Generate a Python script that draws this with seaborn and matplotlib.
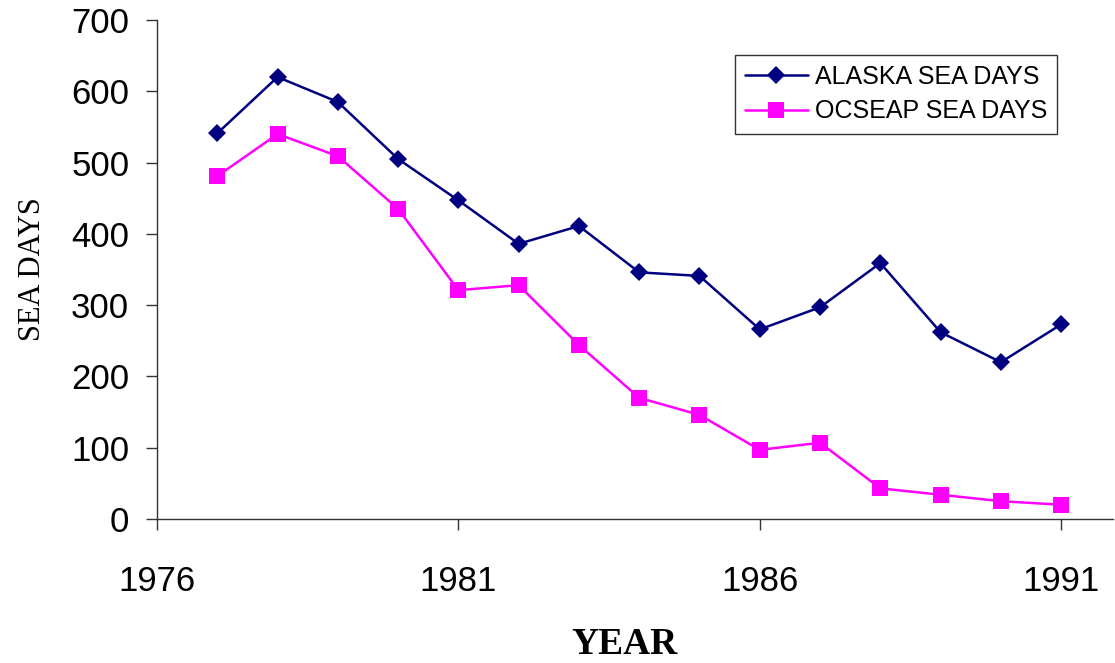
import pandas as pd
import matplotlib
matplotlib.use("Agg")
import matplotlib.pyplot as plt
import seaborn as sns

# 数据
years = [1977, 1978, 1979, 1980, 1981, 1982, 1983, 1984, 1985, 1986, 1987, 1988, 1989, 1990, 1991]
alaska = [541, 620, 585, 505, 447, 386, 411, 346, 341, 266, 297, 359, 262, 220, 273]
ocseap = [481, 540, 509, 435, 321, 328, 244, 170, 146, 97, 107, 43, 34, 25, 20]
x_ticks = [1976, 1981, 1986, 1991]
y_ticks = [0, 100, 200, 300, 400, 500, 600, 700]

sns.set_style("white")
plt.rcParams['font.family'] = ['Liberation Sans', 'DejaVu Sans']
plt.rcParams['text.color'] = 'black'
plt.rcParams['xtick.color'] = 'black'
plt.rcParams['ytick.color'] = 'black'

df = pd.DataFrame({"year": years, "ALASKA SEA DAYS": alaska, "OCSEAP SEA DAYS": ocseap})
long_df = df.melt(id_vars="year", var_name="series", value_name="days")

fig = plt.figure(figsize=(11.15, 6.63), dpi=100)
ax = fig.add_axes([157/1115, 1 - 519/663, (1113-157)/1115, (519-20)/663])

sns.lineplot(data=long_df, x="year", y="days", hue="series", style="series",
             palette={"ALASKA SEA DAYS": "#000080", "OCSEAP SEA DAYS": "#FF00FF"},
             markers={"ALASKA SEA DAYS": "D", "OCSEAP SEA DAYS": "s"},
             dashes=False, linewidth=1.8, markeredgewidth=0, ax=ax)
# 设置marker大小
for line in ax.lines:
    if line.get_marker() == "D":
        line.set_markersize(9)
    elif line.get_marker() == "s":
        line.set_markersize(12)

ax.set_xlim(1976, 1991.86)
ax.set_ylim(0, 700)
ax.set_xticks(x_ticks)
ax.set_yticks(y_ticks)
ax.tick_params(axis="x", direction="out", length=8, width=1, labelsize=25, pad=25, color="#333333",
               labelcolor="black")
ax.tick_params(axis="y", direction="out", length=8, width=1, labelsize=25, pad=12, color="#333333",
               labelcolor="black")
ax.xaxis.set_ticks_position("bottom")
ax.yaxis.set_ticks_position("left")

for s in ["top", "right"]:
    ax.spines[s].set_visible(False)
for s in ["left", "bottom"]:
    ax.spines[s].set_color("#333333")
    ax.spines[s].set_linewidth(1)

ax.set_xlabel("")
ax.set_ylabel("")
fig.text(33/1115, 1 - 269/663, "SEA DAYS", rotation=90, ha="center", va="center",
         family="Liberation Serif", fontsize=22, color="black")
fig.text(625/1115, 1 - 645/663, "YEAR", ha="center", va="center",
         family="Liberation Serif", fontweight="bold", fontsize=27, color="black")

leg = ax.legend(loc="upper left", bbox_to_anchor=(735/1115, 1 - 55/663),
                bbox_transform=fig.transFigure, fontsize=18, frameon=True,
                fancybox=False, edgecolor="black", borderpad=0.4,
                handlelength=2.5, handletextpad=0.3, labelspacing=0.42, borderaxespad=0)
leg.get_frame().set_linewidth(1)
for t in leg.get_texts():
    t.set_color("black")
for h in leg.legend_handles:
    if h.get_marker() == "D":
        h.set_markersize(9)
    elif h.get_marker() == "s":
        h.set_markersize(12)

fig.savefig("out.png", dpi=100)
